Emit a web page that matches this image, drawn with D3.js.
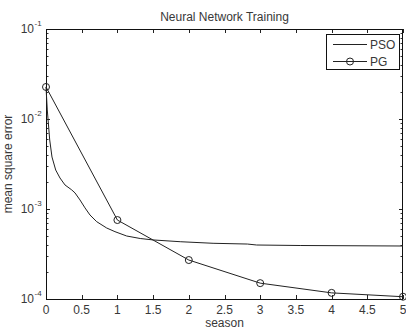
<!DOCTYPE html>
<html><head><meta charset="utf-8">
<script src="https://cdn.jsdelivr.net/npm/d3@7"></script>
<style>body{margin:0;background:#fff}text{font-family:"Liberation Sans Narrow","Liberation Sans",Arial,sans-serif;fill:#383838}</style>
</head><body>
<script>
const psoX = [0, 0.018, 0.052, 0.084, 0.136, 0.196, 0.266, 0.36, 0.406, 0.476, 0.546, 0.616, 0.71, 0.85, 0.966, 1.13, 1.32, 1.5, 1.88, 2.34, 2.82, 2.95, 3.56, 5];
const psoY = [0.0227, 0.0126, 0.00585, 0.00378, 0.00271, 0.00221, 0.00185, 0.00163, 0.00151, 0.00126, 0.00103, 0.000858, 0.000723, 0.000615, 0.00056, 0.000501, 0.00047, 0.000453, 0.000433, 0.000416, 0.000408, 0.000398, 0.000393, 0.000388];
const pgX = [0, 1, 2, 3, 4, 5];
const pgY = [0.0227, 0.000754, 0.000271, 0.00015, 0.000117, 0.000106];
const xTicks = [0, 0.5, 1, 1.5, 2, 2.5, 3, 3.5, 4, 4.5, 5];
const yTickExps = [-4, -3, -2, -1];
const seriesNames = ["PSO", "PG"];

const W = 406, H = 329;
const L = 46, R = 403, T = 29, B = 299;
const svg = d3.select("body").append("svg").attr("width", W).attr("height", H);
const x = d3.scaleLinear().domain([0, 5]).range([L, R]);
const y = d3.scaleLog().domain([1e-4, 1e-1]).range([B, T]);

const g = svg.append("g");
const minor = y.ticks().filter(v => Math.abs(Math.log10(v) - Math.round(Math.log10(v))) > 1e-6);
g.selectAll(".mnl").data(minor).join("line")
  .attr("x1", L).attr("x2", L + 2.5).attr("y1", d => Math.round(y(d)) + 0.5).attr("y2", d => Math.round(y(d)) + 0.5)
  .attr("stroke", "#333");
g.selectAll(".mnr").data(minor).join("line")
  .attr("x1", R).attr("x2", R - 2.5).attr("y1", d => Math.round(y(d)) + 0.5).attr("y2", d => Math.round(y(d)) + 0.5)
  .attr("stroke", "#333");
const yMaj = yTickExps.map(e => Math.pow(10, e));
g.selectAll(".mjl").data(yMaj).join("line")
  .attr("x1", L).attr("x2", L + 4).attr("y1", d => Math.round(y(d)) + 0.5).attr("y2", d => Math.round(y(d)) + 0.5).attr("stroke", "#222");
g.selectAll(".mjr").data(yMaj).join("line")
  .attr("x1", R).attr("x2", R - 4).attr("y1", d => Math.round(y(d)) + 0.5).attr("y2", d => Math.round(y(d)) + 0.5).attr("stroke", "#222");
g.selectAll(".xb").data(xTicks).join("line")
  .attr("x1", d => Math.round(x(d)) + 0.5).attr("x2", d => Math.round(x(d)) + 0.5).attr("y1", B).attr("y2", B - 4).attr("stroke", "#222");
g.selectAll(".xt").data(xTicks).join("line")
  .attr("x1", d => Math.round(x(d)) + 0.5).attr("x2", d => Math.round(x(d)) + 0.5).attr("y1", T).attr("y2", T + 4).attr("stroke", "#222");

svg.append("rect").attr("x", L + 0.5).attr("y", T + 0.5).attr("width", R - L - 1).attr("height", B - T)
  .attr("fill", "none").attr("stroke", "#111");

svg.selectAll(".xl").data(xTicks).join("text")
  .attr("x", d => x(d)).attr("y", 314).attr("text-anchor", "middle").attr("font-size", 12)
  .text(d => d3.format("~g")(d));

svg.selectAll(".yl").data(yTickExps).join("text")
  .attr("x", 34).attr("y", d => y(Math.pow(10, d)) + 4).attr("text-anchor", "end").attr("font-size", 12)
  .text("10");
svg.selectAll(".ys").data(yTickExps).join("text")
  .attr("x", 34.5).attr("y", d => y(Math.pow(10, d)) - 3).attr("font-size", 8)
  .text(d => String(d));

svg.append("text").attr("x", (L + R) / 2).attr("y", 21).attr("text-anchor", "middle").attr("font-size", 12).text("Neural Network Training");
svg.append("text").attr("x", (L + R) / 2).attr("y", 327).attr("text-anchor", "middle").attr("font-size", 12).text("season");
svg.append("text").attr("transform", `translate(12,${(T + B) / 2}) rotate(-90)`).attr("text-anchor", "middle").attr("font-size", 12).text("mean square error");

const line = d3.line().x(d => x(d[0])).y(d => y(d[1]));
const pso = psoX.map((v, i) => [v, psoY[i]]);
const pg = pgX.map((v, i) => [v, pgY[i]]);
svg.append("path").datum(pso).attr("d", line).attr("fill", "none").attr("stroke", "#222").attr("stroke-width", 1);
svg.append("path").datum(pg).attr("d", line).attr("fill", "none").attr("stroke", "#222").attr("stroke-width", 1);
svg.selectAll(".pgm").data(pg).join("circle")
  .attr("cx", d => x(d[0])).attr("cy", d => y(d[1])).attr("r", 3.5)
  .attr("fill", "none").attr("stroke", "#222").attr("stroke-width", 1);

const lg = svg.append("g");
lg.append("rect").attr("x", 326.5).attr("y", 34.5).attr("width", 73).attr("height", 35).attr("fill", "#fff").attr("stroke", "#111");
lg.append("line").attr("x1", 333).attr("x2", 367).attr("y1", 44.5).attr("y2", 44.5).attr("stroke", "#222");
lg.append("line").attr("x1", 333).attr("x2", 367).attr("y1", 61.5).attr("y2", 61.5).attr("stroke", "#222");
lg.append("circle").attr("cx", 350).attr("cy", 61.5).attr("r", 3.5).attr("fill", "none").attr("stroke", "#222");
lg.selectAll(".lt").data(seriesNames).join("text")
  .attr("x", 370).attr("y", (d, i) => 48.5 + i * 17).attr("font-size", 12).text(d => d);
</script>
</body></html>
